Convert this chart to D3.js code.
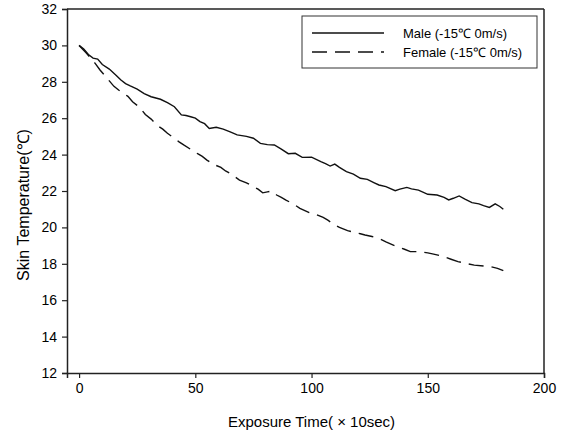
<!DOCTYPE html>
<html>
<head>
<meta charset="utf-8">
<script src="https://cdn.jsdelivr.net/npm/d3@7"></script>
<style>
  body { margin: 0; background: #fff; }
  svg { display: block; font-family: "Liberation Sans", Arial, sans-serif; }
  .tick text { font-size: 14px; fill: #000; }
  .axis-label { font-size: 15px; fill: #000; text-anchor: middle; }
  .legend-text { font-size: 13px; fill: #000; }
</style>
</head>
<body>
<svg id="chart" width="568" height="439"></svg>
<script>
// skin temperature readings
const maleTime = [0, 2, 4, 6, 8, 10, 13, 16, 18, 20, 22, 25, 28, 31, 35, 38, 41, 44, 46, 48, 50, 52, 54, 56, 59, 62, 65, 68, 72, 75, 78, 81, 84, 87, 90, 93, 96, 100, 104, 106, 108, 110, 112, 115, 118, 121, 124, 127, 129, 132, 136, 138, 141, 143, 146, 150, 154, 157, 159, 161, 163.5, 166, 169, 172, 174, 176.5, 179, 181, 182.5];
const maleTemp = [30.0, 29.8, 29.5, 29.3, 29.25, 28.95, 28.7, 28.35, 28.1, 27.9, 27.77, 27.6, 27.35, 27.18, 27.04, 26.85, 26.63, 26.18, 26.15, 26.08, 26.0, 25.81, 25.7, 25.44, 25.5, 25.4, 25.25, 25.08, 25.0, 24.9, 24.62, 24.55, 24.53, 24.3, 24.05, 24.07, 23.85, 23.86, 23.61, 23.5, 23.37, 23.48, 23.3, 23.06, 22.93, 22.7, 22.64, 22.45, 22.33, 22.24, 22.02, 22.1, 22.2, 22.12, 22.05, 21.82, 21.78, 21.65, 21.51, 21.6, 21.73, 21.55, 21.36, 21.29, 21.2, 21.1, 21.29, 21.15, 21.0];

const femaleTime = [0, 3, 5, 7, 9, 12, 15, 17, 19, 21, 23, 26, 28.5, 31, 34, 36, 38, 41, 43, 45, 48, 51, 53, 55, 58, 61, 63, 65, 69, 72, 75, 77, 79, 81, 83, 85, 87, 89, 92, 95, 99, 102, 105, 107, 109, 112, 115.5, 119, 121, 123, 126, 129, 132, 136, 140, 142.5, 146, 150, 153, 156, 160, 163, 166, 170, 174, 177, 180, 182.5];
const femaleTemp = [30.0, 29.6, 29.3, 29.0, 28.65, 28.2, 27.75, 27.55, 27.37, 27.2, 26.9, 26.6, 26.2, 25.95, 25.57, 25.4, 25.17, 24.9, 24.7, 24.53, 24.29, 24.05, 23.9, 23.7, 23.45, 23.3, 23.1, 22.97, 22.6, 22.45, 22.24, 22.1, 21.9, 21.95, 22.0, 21.78, 21.65, 21.5, 21.3, 21.05, 20.81, 20.7, 20.55, 20.4, 20.22, 20.0, 19.82, 19.71, 19.65, 19.58, 19.5, 19.4, 19.2, 18.98, 18.8, 18.67, 18.67, 18.6, 18.52, 18.43, 18.25, 18.12, 18.03, 17.93, 17.88, 17.84, 17.75, 17.62];

const xTicks = [0, 50, 100, 150, 200];
const yTicks = [12, 14, 16, 18, 20, 22, 24, 26, 28, 30, 32];
const seriesNames = ["Male (-15\u2103 0m/s)", "Female (-15\u2103 0m/s)"];

const svg = d3.select("#chart");

const plotLeft = 67, plotRight = 544, plotTop = 9, plotBottom = 373;

const x = d3.scaleLinear().domain([-5.2, 200]).range([plotLeft, plotRight]);
const y = d3.scaleLinear().domain([12, 32]).range([plotBottom, plotTop]);

// frame: top and right borders
svg.append("line")
  .attr("x1", plotLeft).attr("x2", plotRight)
  .attr("y1", plotTop).attr("y2", plotTop)
  .attr("stroke", "#222").attr("stroke-width", 1.5);
svg.append("line")
  .attr("x1", plotRight).attr("x2", plotRight)
  .attr("y1", plotTop).attr("y2", plotBottom)
  .attr("stroke", "#222").attr("stroke-width", 1.5);

const xAxis = svg.append("g")
  .attr("transform", `translate(0,${plotBottom})`)
  .call(d3.axisBottom(x).tickValues(xTicks).tickSize(5).tickPadding(5).tickFormat(d3.format("d")));

const yAxis = svg.append("g")
  .attr("transform", `translate(${plotLeft},0)`)
  .call(d3.axisLeft(y).tickValues(yTicks).tickSize(5).tickPadding(5).tickFormat(d3.format("d")));

[xAxis, yAxis].forEach(g => {
  g.select(".domain").attr("stroke", "#222").attr("stroke-width", 1.5);
  g.selectAll(".tick line").attr("stroke", "#222").attr("stroke-width", 1.2);
  g.attr("font-family", null).attr("font-size", null);
});

// y axis title
svg.append("text")
  .attr("class", "axis-label")
  .style("font-size", "16px")
  .attr("transform", `translate(29,${(plotTop + plotBottom) / 2 + 14}) rotate(-90)`)
  .text("Skin Temperature(\u2103)");

// x axis title
svg.append("text")
  .attr("class", "axis-label")
  .attr("x", (x(0) + plotRight) / 2)
  .attr("y", 427)
  .text("Exposure Time( \u00d7 10sec)");

const line = d3.line()
  .x(d => x(d[0]))
  .y(d => y(d[1]));

const maleData = d3.zip(maleTime, maleTemp);
const femaleData = d3.zip(femaleTime, femaleTemp);

svg.append("path")
  .datum(maleData)
  .attr("d", line)
  .attr("fill", "none")
  .attr("stroke", "#111")
  .attr("stroke-width", 1.4);

svg.append("path")
  .datum(femaleData)
  .attr("d", line)
  .attr("fill", "none")
  .attr("stroke", "#111")
  .attr("stroke-width", 1.4)
  .attr("stroke-dasharray", "15,8");

// legend
const legend = svg.append("g").attr("transform", "translate(302,16)");

legend.append("rect")
  .attr("x", 0).attr("y", 0)
  .attr("width", 235).attr("height", 52)
  .attr("fill", "#fff")
  .attr("stroke", "#333")
  .attr("stroke-width", 1);

const dashes = [null, "15,8"];

const item = legend.selectAll(".item")
  .data(seriesNames)
  .join("g")
  .attr("class", "item")
  .attr("transform", (d, i) => `translate(0,${17 + i * 19})`);

item.append("line")
  .attr("x1", 10).attr("x2", 82)
  .attr("y1", 0).attr("y2", 0)
  .attr("stroke", "#111")
  .attr("stroke-width", 1.3)
  .attr("stroke-dasharray", (d, i) => dashes[i]);

item.append("text")
  .attr("class", "legend-text")
  .attr("x", 101)
  .attr("y", 5)
  .text(d => d);
</script>
</body>
</html>
